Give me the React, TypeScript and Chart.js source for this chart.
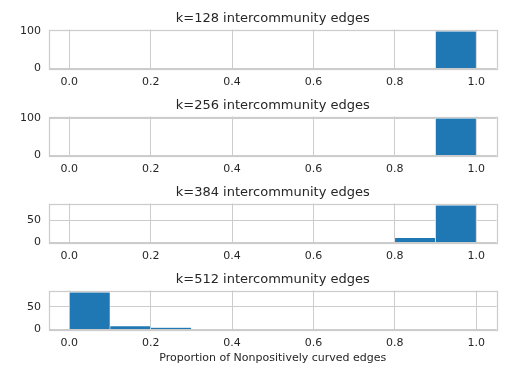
import React, { useEffect, useRef } from "react";
import { Chart, registerables } from "chart.js";

Chart.register(...registerables);

const binEdges = [0, 0.1, 0.2, 0.3, 0.4, 0.5, 0.6, 0.7, 0.8, 0.9, 1.0];
const xTickValues = [0, 0.2, 0.4, 0.6, 0.8, 1.0];

const k128Counts = [0, 0, 0, 0, 0, 0, 0, 0, 0, 98];
const k256Counts = [0, 0, 0, 0, 0, 0, 0, 0, 0, 100];
const k384Counts = [0, 0, 0, 0, 0, 0, 0, 0, 10, 83];
const k512Counts = [82, 7, 4, 1, 0, 0, 0, 0, 0, 0];

const yTicks128 = [0, 100];
const yTicks256 = [0, 100];
const yTicks384 = [0, 50];
const yTicks512 = [0, 50];

const panelTitles = [
  "k=128 intercommunity edges",
  "k=256 intercommunity edges",
  "k=384 intercommunity edges",
  "k=512 intercommunity edges",
];
const xAxisLabel = "Proportion of Nonpositively curved edges";

const FONT = "'DejaVu Sans', sans-serif";
const TEXT = "#262626";
const GRID = "#cccccc";
const BAR = "#1f77b4";

const boxPlugin = {
  id: "boxPlugin",
  afterDatasetsDraw(chart: any) {
    const a = chart.chartArea;
    const ctx = chart.ctx;
    ctx.save();
    ctx.strokeStyle = GRID;
    ctx.lineWidth = 1.25;
    ctx.strokeRect(Math.round(a.left) + 0.5, Math.round(a.top) + 0.5, Math.round(a.right - a.left), Math.round(a.bottom - a.top));
    ctx.restore();
  },
};

function Panel(props: { title: string; counts: number[]; yTicks: number[]; top: number; height: number; showXLabel: boolean }) {
  const ref = useRef<HTMLCanvasElement | null>(null);
  useEffect(() => {
    if (!ref.current) return;
    const centers = binEdges.slice(0, -1).map((e, i) => (e + binEdges[i + 1]) / 2);
    const maxCount = Math.max(...props.counts);
    const chart = new Chart(ref.current, {
      type: "bar",
      data: {
        datasets: [
          {
            data: centers.map((c, i) => ({ x: c, y: props.counts[i] })),
            backgroundColor: BAR,
            borderColor: "#ffffff",
            borderWidth: { top: 0.3, left: 0.6, right: 0.6, bottom: 0 },
            borderSkipped: "bottom",
            barPercentage: 1,
            categoryPercentage: 1,
          } as any,
        ],
      },
      options: {
        responsive: false,
        animation: false,
        layout: { autoPadding: false, padding: { left: 0, right: 17.5, top: 0, bottom: 0 } } as any,
        plugins: {
          legend: { display: false },
          tooltip: { enabled: false },
          title: {
            display: true,
            fullSize: false,
            text: props.title,
            color: TEXT,
            font: { family: FONT, size: 13, weight: "normal" },
            padding: { top: 11, bottom: 3 },
          },
        },
        scales: {
          x: {
            type: "linear",
            min: -0.05,
            max: 1.05,
            offset: false,
            grid: { color: GRID, drawTicks: false, offset: false, lineWidth: 1 },
            border: { display: false },
            ticks: {
              color: TEXT,
              font: { family: FONT, size: 11 },
              padding: 7,
              callback: (v: any) => Number(v).toFixed(1),
            },
            afterBuildTicks: (axis: any) => {
              axis.ticks = xTickValues.map((v) => ({ value: v }));
            },
            afterFit: (axis: any) => {
              axis.height = props.height - 68.5;
            },
            title: props.showXLabel
              ? { display: true, text: xAxisLabel, color: TEXT, font: { family: FONT, size: 11 }, padding: { top: 0, bottom: 3 } }
              : { display: false },
          } as any,
          y: {
            type: "linear",
            min: 0,
            max: maxCount * 1.05,
            grid: { color: GRID, drawTicks: false, lineWidth: 1 },
            border: { display: false },
            ticks: {
              color: TEXT,
              font: { family: FONT, size: 11 },
              padding: 8,
            },
            afterBuildTicks: (axis: any) => {
              axis.ticks = props.yTicks.map((v) => ({ value: v }));
            },
            afterFit: (axis: any) => {
              axis.width = 49;
            },
          } as any,
        },
      },
      plugins: [boxPlugin],
    });
    return () => chart.destroy();
  }, []);
  return (
    <canvas
      ref={ref}
      width={514}
      height={props.height}
      style={{ position: "absolute", left: 0, top: props.top, width: 514, height: props.height }}
    />
  );
}

export default function App() {
  return (
    <div style={{ position: "absolute", left: 0, top: 0, width: 514, height: 368, background: "#ffffff" }}>
      <Panel title={panelTitles[0]} counts={k128Counts} yTicks={yTicks128} top={0} height={87} showXLabel={false} />
      <Panel title={panelTitles[1]} counts={k256Counts} yTicks={yTicks256} top={87} height={87} showXLabel={false} />
      <Panel title={panelTitles[2]} counts={k384Counts} yTicks={yTicks384} top={174} height={87} showXLabel={false} />
      <Panel title={panelTitles[3]} counts={k512Counts} yTicks={yTicks512} top={261} height={107} showXLabel={true} />
    </div>
  );
}
